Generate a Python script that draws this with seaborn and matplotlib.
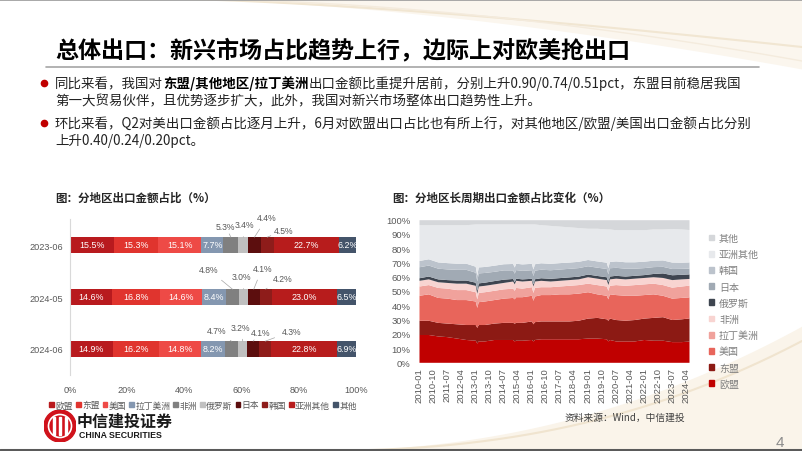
import pandas as pd
import matplotlib
matplotlib.use("Agg")
import matplotlib.pyplot as plt
from matplotlib.patches import Circle, Patch, Rectangle
import seaborn as sns

# ---------- 左图：分地区出口金额占比 ----------
regions = ["欧盟", "东盟", "美国", "拉丁美洲", "非洲", "俄罗斯", "日本", "韩国", "亚洲其他", "其他"]
months = ["2023-06", "2024-05", "2024-06"]
share_2306 = [15.5, 15.3, 15.1, 7.7, 5.3, 3.4, 4.4, 4.5, 22.7, 6.2]
share_2405 = [14.6, 16.8, 14.6, 8.4, 4.8, 3.0, 4.1, 4.2, 23.0, 6.5]
share_2406 = [14.9, 16.2, 14.8, 8.2, 4.7, 3.2, 4.1, 4.3, 22.8, 6.9]
bar_colors = ["#B81A1E", "#E0342E", "#EE4A46", "#8497B0", "#808080",
              "#C0C0C0", "#5C0E0E", "#8E1C1A", "#B71C1C", "#44546A"]
x_ticks_left = [0, 20, 40, 60, 80, 100]

# ---------- 右图：分地区长周期出口金额占比 ----------
dates = ["2010-01", "2010-07", "2011-01", "2011-07", "2012-01", "2012-07", "2013-01", "2013-02",
         "2013-03", "2013-07", "2014-01", "2014-07", "2015-01", "2015-02", "2015-03", "2015-07",
         "2016-01", "2016-02", "2016-03", "2016-07", "2017-01", "2017-07", "2018-01", "2018-07",
         "2019-01", "2019-07", "2020-01", "2020-02", "2020-03", "2020-07", "2021-01", "2021-07",
         "2022-01", "2022-07", "2023-01", "2023-07", "2024-01", "2024-06"]
eu = [19.5, 19.5, 18.5, 18, 17, 16, 15.5, 13.5, 15, 15, 16, 16, 16, 15, 15.5, 15.5, 16, 15, 16,
      16.5, 16.5, 16.5, 16.5, 16.5, 17, 17, 16.5, 15, 16, 15, 15, 15, 16, 15.5, 15.5, 14.5, 14.5, 14.9]
asean = [10, 10, 9.5, 9.5, 10, 10.5, 11, 11, 11.5, 11.5, 11.5, 12, 12, 12.5, 12.5, 12.5, 13, 12,
         12.5, 12.5, 12.5, 12.5, 12.5, 13, 14, 14.5, 14, 14.5, 15, 15, 14.5, 15, 15, 16, 16.5, 15.5, 16, 16.2]
usa = [17.5, 18.5, 17.5, 17.5, 17, 17.5, 16.5, 14, 16, 16.5, 16.5, 17, 17.5, 17, 18, 18, 18, 16.5,
       18, 18.5, 18.5, 19, 19, 19, 18.5, 16.5, 16.5, 15, 17, 17.5, 17.5, 17, 16.5, 16.5, 15, 15, 15, 14.8]
latam = [6.5, 6.5, 7, 7, 7, 7, 6.5, 6, 6.5, 6.5, 6.5, 6.5, 6.5, 6, 6.5, 6, 6, 5.5, 6, 5.5, 5.5,
         5.5, 6, 6, 6, 6.5, 6.5, 6, 6, 7, 7, 7.5, 7.5, 7.5, 7.5, 7.7, 8, 8.2]
africa = [4, 4, 4, 4, 4.5, 4.5, 4.5, 4, 4.5, 4.5, 4.5, 4.5, 5, 4.5, 5, 5, 4.5, 4.5, 4.5, 4.5, 4, 4,
          4, 4, 4.5, 4.5, 4.5, 4, 4.5, 4.5, 4.5, 4.5, 4.5, 4.5, 5, 5.3, 5, 4.7]
russia = [1.8, 2, 2, 2, 2.2, 2.2, 2.2, 2, 2.2, 2.2, 2.3, 2.3, 1.8, 1.5, 1.5, 1.5, 1.4, 1.4, 1.6,
          1.8, 1.9, 1.9, 1.9, 1.9, 1.9, 1.9, 2, 2, 2, 2, 2, 2, 2, 2.3, 3.2, 3.4, 3.2, 3.2]
japan = [7.7, 7.7, 7.5, 7.5, 7.5, 7.5, 7, 6.5, 7, 6.8, 6.5, 6.5, 6, 6, 6, 6, 6, 6, 6, 6, 6, 6, 6,
         6, 5.8, 5.8, 5.8, 5.5, 5.8, 5.6, 5.5, 5, 4.9, 4.8, 4.6, 4.4, 4.2, 4.1]
korea = [4.4, 4.4, 4.4, 4.4, 4.3, 4.3, 4.2, 4, 4.2, 4.2, 4.3, 4.3, 4.5, 4.3, 4.5, 4.5, 4.5, 4.5,
         4.5, 4.5, 4.5, 4.5, 4.4, 4.4, 4.4, 4.4, 4.4, 4.3, 4.4, 4.5, 4.5, 4.5, 4.5, 4.5, 4.5, 4.5, 4.3, 4.3]
asia_other = [25.1, 23.9, 26.1, 26.6, 27, 27, 29.6, 36, 30.1, 29.8, 28.9, 27.9, 27.7, 30.2, 27.5,
              28, 27.6, 31.6, 27.9, 26.7, 26.6, 25.6, 24.7, 23.7, 21.9, 22.9, 23.3, 27.2, 22.8,
              21.9, 22.5, 22.5, 22.1, 21.9, 21.7, 23.5, 23.3, 22.7]
other = [3.5, 3.5, 3.5, 3.5, 3.5, 3.5, 3, 3, 3, 3, 3, 3, 3, 3, 3, 3, 3, 3, 3, 3.5, 4, 4.5, 5, 5.5,
         6, 6, 6.5, 6.5, 6.5, 7, 7, 7, 7, 6.5, 6.5, 6.2, 6.5, 6.9]
area_colors = ["#C00000", "#8C1A14", "#E8655B", "#F0A29C", "#F8D4D1",
               "#3E4550", "#A1AAB4", "#BCC3CC", "#E7E9EC", "#D5D7DA"]
x_tick_labels = ["2010-01", "2010-10", "2011-07", "2012-04", "2013-01", "2013-10", "2014-07",
                 "2015-04", "2016-01", "2016-10", "2017-07", "2018-04", "2019-01", "2019-10",
                 "2020-07", "2021-04", "2022-01", "2022-10", "2023-07", "2024-04"]

title = "总体出口：新兴市场占比趋势上行，边际上对欧美抢出口"
bullet_lines = [
    [("同比来看，我国对", False), ("东盟/其他地区/拉丁美洲", True),
     ("出口金额比重提升居前，分别上升0.90/0.74/0.51pct，东盟目前稳居我国", False)],
    [("第一大贸易伙伴，且优势逐步扩大，此外，我国对新兴市场整体出口趋势性上升。", False)],
    [("环比来看，Q2对美出口金额占比逐月上升，6月对欧盟出口占比也有所上行，对其他地区/欧盟/美国出口金额占比分别", False)],
    [("上升0.40/0.24/0.20pct。", False)],
]

sns.set_theme(style="white")
plt.rcParams["font.family"] = ["Noto Sans CJK SC", "DejaVu Sans"]
GRAY = "#595959"
NUM = ["Liberation Sans", "Noto Sans CJK SC"]

fig = plt.figure(figsize=(8.02, 4.52), dpi=100)
fig.patch.set_facecolor("white")

# background layer in pixel coordinates
bg = fig.add_axes([0, 0, 1, 1], zorder=-10)
bg.set_xlim(0, 802)
bg.set_ylim(452, 0)
bg.axis("off")

xs = pd.Series(range(180, 803))
bg.fill_between(xs, 0, 70 * ((xs - 180) / 622) ** 1.6, color="#FBF6EE", lw=0)
bg.plot(xs, 48 * ((xs - 180) / 622) ** 1.4, color="#F1E6D2", lw=1.5)
bg.plot(xs, 62 * ((xs - 180) / 622) ** 1.8, color="#F4EBDD", lw=1.0)
xb = pd.Series(range(300, 803))
bg.fill_between(xb, 452 - 125 * ((xb - 300) / 502) ** 2.2, 452, color="#FAF4EA", lw=0)
bg.plot(xb, 452 - 110 * ((xb - 300) / 502) ** 2.4, color="#F0E4CF", lw=1.5)
bg.plot([0, 802], [0.8, 0.8], color="#9A9A9A", lw=1.2)
bg.plot([0, 802], [450.5, 450.5], color="#5A5A5A", lw=2.2)

# title and bullets
bg.text(55, 50, title, fontsize=16.6, weight="bold", va="center", ha="left", color="black")
bg.plot([46, 759], [68, 68], color="#A6A6A6", lw=1.2)

renderer = fig.canvas.get_renderer()
line_y = [84, 101, 124, 141]
for k, parts in enumerate(bullet_lines):
    x = 55
    for txt, bold in parts:
        t = bg.text(x, line_y[k], txt, fontsize=9.7, va="center", ha="left",
                    weight="bold" if bold else "normal",
                    color="black" if bold else "#222222")
        x += t.get_window_extent(renderer=renderer).width
for yy in (84, 124):
    bg.plot([44], [yy], marker="o", ms=4.5, color="#C00000")

bg.text(55, 198, "图：分地区出口金额占比（%）", fontsize=8.3, weight="bold", va="center")
bg.text(392, 198, "图：分地区长周期出口金额占比变化（%）", fontsize=8.3, weight="bold", va="center")
bg.text(565, 418, "资料来源：Wind，中信建投", fontsize=7, color="#404040", va="center", style="italic")
bg.text(780, 443, "4", fontsize=11, color="#8C8C8C", va="center", ha="center", family=NUM)
bg.text(77, 422, "中信建投证券", fontsize=11.5, weight="bold", va="center", color="#1A1A1A")
bg.text(79, 436, "CHINA SECURITIES", fontsize=6.3, weight="bold", va="center", color="#1A1A1A",
        family=NUM)

# logo
lg = fig.add_axes([44 / 802, 1 - 443 / 452, 32 / 802, 32 / 452])
lg.set_xlim(-1, 1)
lg.set_ylim(-1, 1)
lg.set_aspect("equal")
lg.axis("off")
lg.add_patch(Circle((0, 0), 1, color="#D0121B"))
lg.add_patch(Circle((0, 0), 0.72, fill=False, ec="white", lw=1.2))
for xv in (-0.35, 0, 0.35):
    lg.add_patch(Rectangle((xv - 0.06, -0.55), 0.12, 1.1, color="white"))

# ---------- left stacked bar chart ----------
ax1 = fig.add_axes([70 / 802, 1 - 376 / 452, 286 / 802, 156 / 452])
ax1.set_facecolor("none")
left = pd.DataFrame([share_2306, share_2405, share_2406], index=months, columns=regions)
cum = left.cumsum(axis=1)
for i in range(len(regions) - 1, -1, -1):
    sns.barplot(x=cum.iloc[:, i].values, y=months, orient="h", color=bar_colors[i],
                width=0.3, saturation=1, errorbar=None, linewidth=0, ax=ax1)

inside = [0, 1, 2, 3, 8, 9]
small = [4, 5, 6, 7]
label_offsets = [
    [(-4, 8), (1, 9), (9, 14), (12, 5)],
    [(-17, 14), (-1.5, 9), (6, 15), (12, 8)],
    [(-11, 8), (-1.5, 10), (5, 6.5), (19, 7)],
]
for j, m in enumerate(months):
    for i in inside:
        v = left.iloc[j, i]
        ax1.text(cum.iloc[j, i] - v / 2, j, f"{v:.1f}%", ha="center", va="center",
                 color="white", fontsize=6.4, family=NUM)
    for n, i in enumerate(small):
        v = left.iloc[j, i]
        ax1.annotate(f"{v:.1f}%", xy=(cum.iloc[j, i] - v / 2, j - 0.15),
                     xytext=label_offsets[j][n], textcoords="offset points",
                     ha="center", va="center", fontsize=6.2, color=GRAY, family=NUM,
                     arrowprops=dict(arrowstyle="-", color="#A6A6A6", lw=0.5,
                                     shrinkA=3, shrinkB=0))

ax1.set_xlim(0, 100)
ax1.set_ylim(2.5, -0.5)
ax1.set_xticks(x_ticks_left)
ax1.set_xticklabels([f"{t}%" for t in x_ticks_left], family=NUM)
ax1.tick_params(axis="x", length=0, pad=7, labelsize=6.6, labelcolor=GRAY)
ax1.tick_params(axis="y", length=0, pad=5, labelsize=6.6, labelcolor=GRAY)
for lab in ax1.get_yticklabels():
    lab.set_family(NUM)
ax1.set_xlabel("")
ax1.set_ylabel("")
for s in ("top", "right", "bottom"):
    ax1.spines[s].set_visible(False)
ax1.spines["left"].set_color("#D9D9D9")
ax1.spines["left"].set_linewidth(0.8)

handles = [Patch(color=c, label=r) for r, c in zip(regions, bar_colors)]
fig.legend(handles=handles, loc="center", bbox_to_anchor=(203 / 802, 1 - 406 / 452), ncol=10,
           frameon=False, fontsize=6.3, handlelength=0.55, handleheight=0.55,
           handletextpad=0.15, columnspacing=0.35, labelcolor=GRAY, borderpad=0)

# ---------- right stacked area chart ----------
ax2 = fig.add_axes([419 / 802, 1 - 363.3 / 452, 270 / 802, 142.6 / 452])
ax2.set_facecolor("none")
right = pd.DataFrame({"欧盟": eu, "东盟": asean, "美国": usa, "拉丁美洲": latam, "非洲": africa,
                      "俄罗斯": russia, "日本": japan, "韩国": korea, "亚洲其他": asia_other,
                      "其他": other}, index=pd.to_datetime(dates))
right = right.div(right.sum(axis=1), axis=0) * 100
ax2.stackplot(right.index, *[right[c].values for c in regions], colors=area_colors,
              labels=regions, lw=0)
ax2.set_xlim(right.index[0], right.index[-1])
ax2.set_ylim(0, 100)
ax2.set_yticks(range(0, 101, 10))
ax2.set_yticklabels([f"{t}%" for t in range(0, 101, 10)], family=NUM)
ax2.set_xticks(pd.to_datetime(x_tick_labels))
ax2.set_xticklabels(x_tick_labels, rotation=90, family=NUM)
ax2.tick_params(axis="both", length=0, labelsize=6.8, labelcolor=GRAY)
ax2.tick_params(axis="y", pad=6)
ax2.tick_params(axis="x", pad=3.5)
for s in ax2.spines.values():
    s.set_visible(False)

h2 = [Patch(color=c, label=r) for r, c in zip(regions, area_colors)][::-1]
fig.legend(handles=h2, loc="upper left", bbox_to_anchor=(704 / 802, 1 - 229 / 452),
           frameon=False, fontsize=7.2, handlelength=0.5, handleheight=0.5,
           handletextpad=0.5, labelspacing=0.62, labelcolor="#7F7F7F", borderpad=0)

fig.savefig("out.png", dpi=100)
